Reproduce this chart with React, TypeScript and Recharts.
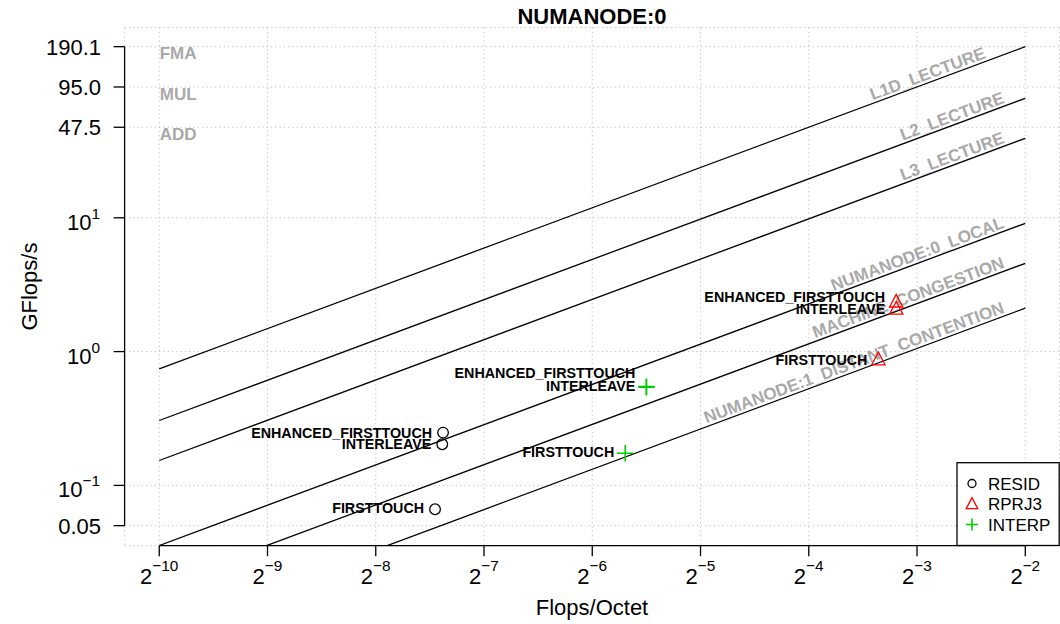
import React from 'react';
import {
  ComposedChart,
  XAxis,
  YAxis,
  CartesianGrid,
  Line,
  Scatter,
  ReferenceLine,
  ReferenceDot
} from 'recharts';

const FONT = '"Liberation Sans", Arial, Helvetica, sans-serif';
const GREY = '#a9a9a9';

// axis ticks
const xTickExponents = [-10, -9, -8, -7, -6, -5, -4, -3, -2];
const yTicks = [0.05, 0.1, 1, 10, 47.5, 95.0, 190.1];
const yTickBase = ['0.05', '10', '10', '10', '47.5', '95.0', '190.1'];
const yTickExp = ['', '\u22121', '0', '1', '', '', ''];

// compute ceilings
const peakNames = ['FMA', 'MUL', 'ADD'];
const peakGflops = [190.1, 95.0, 47.5];

// memory rooflines, GFlops/s read at 2^-10 and at 2^-2
const roofNames = [
  'L1D_LECTURE',
  'L2_LECTURE',
  'L3_LECTURE',
  'NUMANODE:0_LOCAL',
  'MACHINE_CONGESTION',
  'NUMANODE:1_DISTANT_CONTENTION'
];
const roofAtLeft = [0.7426, 0.3055, 0.1535, 0.03555, 0.01785, 0.00824];
const roofAtRight = [190.1, 78.2, 39.3, 9.1, 4.57, 2.11];
const roofLabelEnd = [0.1965, 0.2215, 0.2215, 0.2215, 0.2215, 0.2215];

// measured kernels
const pointLabels = ['ENHANCED_FIRSTTOUCH', 'INTERLEAVE', 'FIRSTTOUCH'];
const residIntensity = [0.00601, 0.00598, 0.00571];
const residGflops = [0.248, 0.203, 0.0663];
const rprj3Intensity = [0.1094, 0.1094, 0.0976];
const rprj3Gflops = [2.36, 2.09, 0.873];
const interpIntensity = [0.0221, 0.0221, 0.0193];
const interpGflops = [0.547, 0.541, 0.174];

// vertical nudges of the point labels (px)
const residLabelDy = [0, 0, -1.5];
const rprj3LabelDy = [-4.5, 0.3, 0.5];
const interpLabelDy = [-14, -1.3, -1.6];

const X_MIN = Math.pow(2, -10);
const X_MAX = Math.pow(2, -2);
const xDomain = [Math.pow(2, -10.32), Math.pow(2, -1.683)];
const yDomain = [0.03542, 264.4];
const xTicks = xTickExponents.map((e) => Math.pow(2, e));

const toPoints = (xs: number[], ys: number[], dys: number[]) =>
  xs.map((x, i) => ({ x, y: ys[i], name: pointLabels[i], dy: dys[i] }));

const residData = toPoints(residIntensity, residGflops, residLabelDy);
const rprj3Data = toPoints(rprj3Intensity, rprj3Gflops, rprj3LabelDy);
const interpData = toPoints(interpIntensity, interpGflops, interpLabelDy);

const pointLabel = (p: any) => (
  <text
    x={p.cx - 11}
    y={p.cy + p.payload.dy + 5.1}
    textAnchor="end"
    fontFamily={FONT}
    fontWeight="bold"
    fontSize={14.3}
    fill="#000"
  >
    {p.payload.name}
  </text>
);

const circleMark = (cx: number, cy: number, r: number) => (
  <circle cx={cx} cy={cy} r={r} fill="none" stroke="#000" strokeWidth={1.3} />
);
const triangleMark = (cx: number, cy: number, w: number) => (
  <polygon
    points={`${cx},${cy - w * 0.55} ${cx - w / 2},${cy + w * 0.4} ${cx + w / 2},${cy + w * 0.4}`}
    fill="none"
    stroke="#ff0000"
    strokeWidth={1.3}
  />
);
const plusMark = (cx: number, cy: number, w: number) => (
  <path
    d={`M${cx - w / 2},${cy}H${cx + w / 2}M${cx},${cy - w / 2}V${cy + w / 2}`}
    stroke="#00cd00"
    strokeWidth={1.6}
  />
);

const XTick = ({ x, payload }: any) => {
  const e = Math.round(Math.log2(payload.value));
  return (
    <text x={x} y={584} textAnchor="middle" fontFamily={FONT} fontSize={22} fill="#000">
      2
      <tspan dy={-13} fontSize={15.4}>{'\u2212' + Math.abs(e)}</tspan>
    </text>
  );
};

const YTick = ({ y, payload }: any) => {
  const i = yTicks.indexOf(payload.value);
  const exp = yTickExp[i];
  if (!exp) {
    return (
      <text x={101} y={y + 8} textAnchor="end" fontFamily={FONT} fontSize={22} fill="#000">
        {yTickBase[i]}
      </text>
    );
  }
  return (
    <text x={100} y={y + 12} textAnchor="end" fontFamily={FONT} fontSize={22} fill="#000">
      {yTickBase[i]}
      <tspan dy={-11} fontSize={15.4}>{exp}</tspan>
    </text>
  );
};

const roofLabel = (text: string) => (p: any) => (
  <text
    transform={`translate(${p.cx},${p.cy}) rotate(-20.4)`}
    x={0}
    y={-3}
    textAnchor="end"
    fontFamily={FONT}
    fontWeight="bold"
    fontSize={17}
    fill={GREY}
  >
    {text}
  </text>
);

const peakLabel = (text: string) => (p: any) => (
  <text x={p.cx + 0.5} y={p.cy + 12.6} fontFamily={FONT} fontWeight="bold" fontSize={17} fill={GREY}>
    {text}
  </text>
);

const legendItems = [
  { name: 'RESID', y: 483.5, mark: (cx: number, cy: number) => circleMark(cx, cy, 4) },
  { name: 'RPRJ3', y: 504, mark: (cx: number, cy: number) => triangleMark(cx, cy, 11.5) },
  { name: 'INTERP', y: 524.5, mark: (cx: number, cy: number) => plusMark(cx, cy, 12) }
];

export default function App() {
  return (
    <div style={{ position: 'absolute', left: 0, top: 0, width: 1060, height: 624, background: '#fff' }}>
      <ComposedChart
        width={1060}
        height={624}
        margin={{ top: 27.5, right: 0.4, bottom: 28.3, left: 0 }}
      >
        <CartesianGrid stroke="#c4c4c4" strokeDasharray="1.3 3" strokeWidth={1} />
        <XAxis
          type="number"
          dataKey="x"
          scale="log"
          domain={xDomain}
          allowDataOverflow
          ticks={xTicks}
          interval={0}
          height={50}
          axisLine={false}
          tickLine={{ stroke: '#000', strokeWidth: 1.3 }}
          tickSize={10.5}
          tick={<XTick />}
        />
        <YAxis
          type="number"
          dataKey="y"
          scale="log"
          domain={yDomain}
          allowDataOverflow
          ticks={yTicks}
          interval={0}
          width={124.6}
          axisLine={false}
          tickLine={{ stroke: '#000', strokeWidth: 1.3 }}
          tickSize={11}
          tick={<YTick />}
        />
        <ReferenceLine
          segment={[{ x: X_MIN, y: yDomain[0] }, { x: X_MAX, y: yDomain[0] }]}
          stroke="#000"
          strokeWidth={1.3}
          ifOverflow="visible"
        />
        <ReferenceLine
          segment={[{ x: xDomain[0], y: yTicks[0] }, { x: xDomain[0], y: yTicks[yTicks.length - 1] }]}
          stroke="#000"
          strokeWidth={1.3}
          ifOverflow="visible"
        />
        {roofNames.map((name, i) => (
          <Line
            key={name}
            data={[
              { x: X_MIN, y: roofAtLeft[i] },
              { x: X_MAX, y: roofAtRight[i] }
            ]}
            dataKey="y"
            stroke="#000"
            strokeWidth={1.3}
            dot={false}
            activeDot={false}
            isAnimationActive={false}
          />
        ))}
        {roofNames.map((name, i) => (
          <ReferenceDot
            key={'lab-' + name}
            x={roofLabelEnd[i]}
            y={(roofAtRight[i] * roofLabelEnd[i]) / X_MAX}
            r={0}
            ifOverflow="visible"
            shape={roofLabel(name)}
          />
        ))}
        {peakNames.map((name, i) => (
          <ReferenceDot
            key={'peak-' + name}
            x={X_MIN}
            y={peakGflops[i]}
            r={0}
            ifOverflow="visible"
            shape={peakLabel(name)}
          />
        ))}
        <Scatter
          data={residData}
          dataKey="y"
          isAnimationActive={false}
          shape={(p: any) => (
            <g>
              {circleMark(p.cx, p.cy, 5.3)}
              {pointLabel(p)}
            </g>
          )}
        />
        <Scatter
          data={rprj3Data}
          dataKey="y"
          isAnimationActive={false}
          shape={(p: any) => (
            <g>
              {triangleMark(p.cx, p.cy, 13.3)}
              {pointLabel(p)}
            </g>
          )}
        />
        <Scatter
          data={interpData}
          dataKey="y"
          isAnimationActive={false}
          shape={(p: any) => (
            <g>
              {plusMark(p.cx, p.cy, 16.5)}
              {pointLabel(p)}
            </g>
          )}
        />
      </ComposedChart>
      <svg
        width={1060}
        height={624}
        style={{ position: 'absolute', left: 0, top: 0, pointerEvents: 'none' }}
      >
        <text x={592} y={24} textAnchor="middle" fontFamily={FONT} fontWeight="bold" fontSize={22}>
          NUMANODE:0
        </text>
        <text x={592} y={615} textAnchor="middle" fontFamily={FONT} fontSize={22}>
          Flops/Octet
        </text>
        <text
          transform="translate(36.5,286.6) rotate(-90)"
          textAnchor="middle"
          fontFamily={FONT}
          fontSize={22}
        >
          GFlops/s
        </text>
        <rect x={957} y={462.7} width={102.2} height={82.8} fill="#fff" stroke="#000" strokeWidth={1.3} />
        {legendItems.map((it) => (
          <g key={it.name}>
            {it.mark(972, it.y)}
            <text x={988} y={it.y + 6.1} fontFamily={FONT} fontSize={17}>
              {it.name}
            </text>
          </g>
        ))}
      </svg>
    </div>
  );
}
